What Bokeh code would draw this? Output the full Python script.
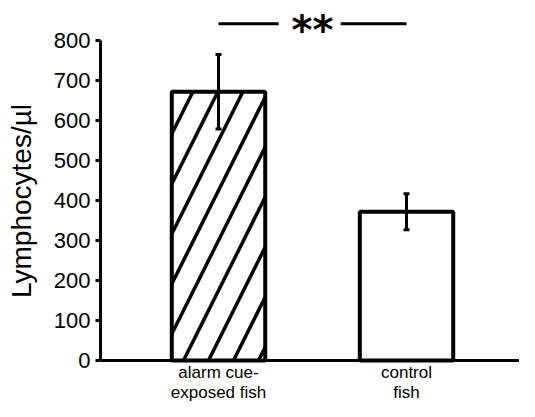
from bokeh.plotting import figure
from bokeh.models import Range1d, FixedTicker, ColumnDataSource
from bokeh.embed import file_html
from bokeh.resources import INLINE
from bokeh.core.properties import value

categories = ["alarm cue-\nexposed fish", "control\nfish"]
positions = [1, 2]
means = [672, 372]
errors = [93, 45]
hatches = ["/", " "]
y_ticks = [0, 100, 200, 300, 400, 500, 600, 700, 800]
sig_text = "**"
sig_level = 842
sig_gap = [1.32, 1.65]

FONT = "Liberation Sans"

p = figure(width=519, height=401, output_backend="svg", toolbar_location=None,
           x_range=Range1d(0.3723, 2.601), y_range=Range1d(-102.5, 900))
p.min_border_left = 100
p.min_border_right = 0
p.min_border_top = 0
p.min_border_bottom = 0
p.outline_line_color = None
p.grid.visible = False
p.background_fill_color = "white"

src = ColumnDataSource(dict(x=positions, top=means,
                            upper=[m + e for m, e in zip(means, errors)],
                            lower=[m - e for m, e in zip(means, errors)],
                            hatch=hatches))

p.vbar(x="x", top="top", bottom=0, width=0.497, source=src,
       fill_color="white", line_color="black", line_width=4,
       hatch_pattern="hatch", hatch_color="black", hatch_weight=3.5, hatch_scale=50)

# error bars (stem + caps)
p.segment(x0="x", x1="x", y0="lower", y1="upper", source=src,
          line_color="black", line_width=3)
p.rect(x="x", y="upper", width=6, height=3, width_units="screen", height_units="screen",
       source=src, fill_color="black", line_color=None)
p.rect(x="x", y="lower", width=6, height=3, width_units="screen", height_units="screen",
       source=src, fill_color="black", line_color=None)

# significance bracket
p.segment(x0=[positions[0], sig_gap[1]], x1=[sig_gap[0], positions[1]],
          y0=[sig_level, sig_level], y1=[sig_level, sig_level],
          line_color="black", line_width=3)
p.text(x=[(positions[0] + positions[1]) / 2], y=[sig_level], text=[sig_text],
       text_align="center", text_baseline="middle",
       text_font=value("DejaVu Sans"), text_font_size="40px", text_font_style="bold",
       text_color="black", y_offset=6)

# y axis
ya = p.yaxis[0]
ya.ticker = FixedTicker(ticks=y_ticks)
ya.bounds = (0, 800)
ya.axis_line_width = 3
ya.major_tick_line_width = 3
ya.major_tick_in = 0
ya.major_tick_out = 5
ya.minor_tick_line_color = None
ya.major_label_text_font = FONT
ya.major_label_text_font_size = "22px"
ya.major_label_text_color = "black"
ya.major_label_standoff = 5
ya.axis_label = "Lymphocytes/µl"
ya.axis_label_text_font = FONT
ya.axis_label_text_font_size = "28px"
ya.axis_label_text_font_style = "normal"
ya.axis_label_text_color = "black"
ya.axis_label_standoff = 14

# x axis at y = 0
xa = p.xaxis[0]
xa.fixed_location = 0
xa.ticker = FixedTicker(ticks=positions)
xa.major_label_overrides = {pos: lab for pos, lab in zip(positions, categories)}
xa.axis_line_width = 3
xa.major_tick_line_color = None
xa.major_tick_in = 0
xa.major_tick_out = 0
xa.minor_tick_line_color = None
xa.major_label_text_font = FONT
xa.major_label_text_font_size = "17px"
xa.major_label_text_line_height = 1.1
xa.major_label_text_color = "black"
xa.major_label_standoff = 2

open("out.html", "w").write(file_html(p, INLINE))
